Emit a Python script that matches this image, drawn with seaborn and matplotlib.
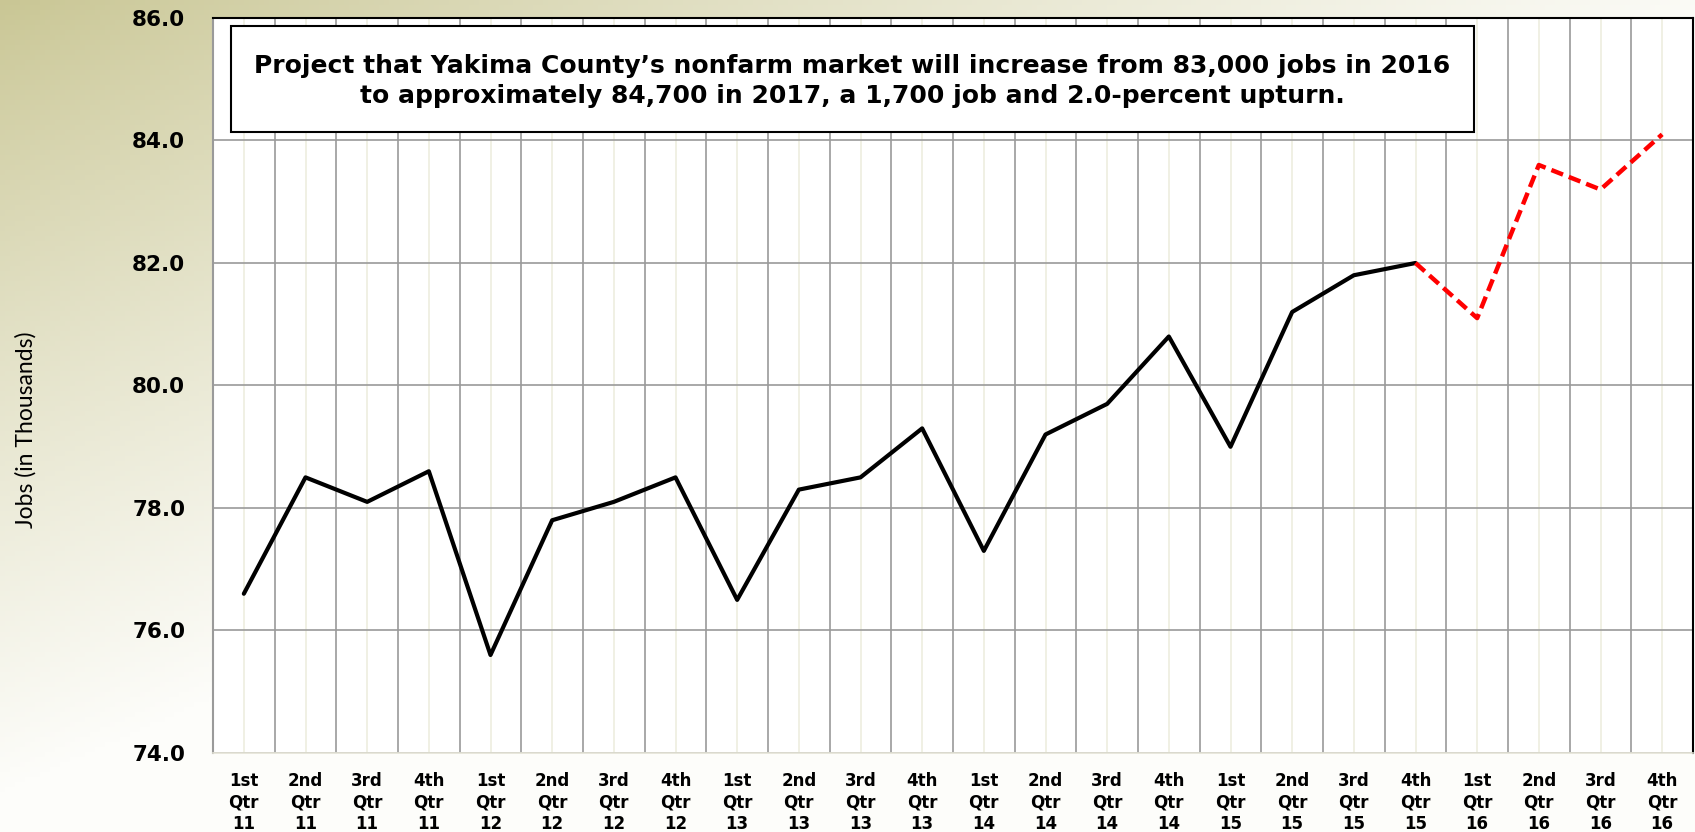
import numpy as np
import pandas as pd
import matplotlib
matplotlib.use("Agg")
import matplotlib.pyplot as plt
import matplotlib.colors as mcolors
from matplotlib.patches import Rectangle
import seaborn as sns

# quarterly nonfarm jobs, thousands
quarters = ["1st", "2nd", "3rd", "4th"] * 6
years = ["11"] * 4 + ["12"] * 4 + ["13"] * 4 + ["14"] * 4 + ["15"] * 4 + ["16"] * 4
actual = [76.6, 78.5, 78.1, 78.6, 75.6, 77.8, 78.1, 78.5, 76.5, 78.3, 78.5, 79.3,
          77.3, 79.2, 79.7, 80.8, 79.0, 81.2, 81.8, 82.0]
forecast = [82.0, 81.1, 83.6, 83.2, 84.1]  # starts at 4th Qtr 15

tick_labels = [f"{q}\nQtr\n{y}" for q, y in zip(quarters, years)]
yticks = [74.0, 76.0, 78.0, 80.0, 82.0, 84.0, 86.0]

df_act = pd.DataFrame({"pos": np.arange(len(actual)), "jobs": actual})
df_fc = pd.DataFrame({"pos": np.arange(len(actual) - 1, len(actual) - 1 + len(forecast)),
                      "jobs": forecast})

sns.set_style("white")
plt.rcParams['font.family'] = ['DejaVu Sans']
plt.rcParams['text.color'] = 'black'
plt.rcParams['xtick.color'] = 'black'
plt.rcParams['ytick.color'] = 'black'
plt.rcParams['axes.labelcolor'] = 'black'

fig = plt.figure(figsize=(16.95, 8.32), dpi=100)

# olive-to-white gradient background
bg = fig.add_axes([0, 0, 1, 1], zorder=-10)
W, H = 340, 166
xx, yy = np.meshgrid(np.linspace(0, 1, W), np.linspace(0, 1, H))
t = np.clip(xx * 0.95 + yy * 1.05, 0, 1) ** 0.85
c0 = np.array(mcolors.to_rgb("#c9c694"))
c1 = np.array(mcolors.to_rgb("#fdfdfa"))
img = c0[None, None, :] * (1 - t[..., None]) + c1[None, None, :] * t[..., None]
bg.imshow(img, aspect="auto", extent=[0, 1, 0, 1], origin="upper")
bg.axis("off")

top_px, bot_px = 18, 753
ax = fig.add_axes([213 / 1695, 1 - bot_px / 832, 1480 / 1695, (bot_px - top_px) / 832])
ax.set_facecolor("white")

sns.lineplot(data=df_act, x="pos", y="jobs", ax=ax, color="black", linewidth=3.0, zorder=5)
sns.lineplot(data=df_fc, x="pos", y="jobs", ax=ax, color="#ff0000", linewidth=3.2,
             zorder=5, linestyle=(0, (2.8, 1.4)))

ax.set_xlim(-0.5, len(tick_labels) - 0.5)
ax.set_ylim(74, 86)
ax.set_yticks(yticks)
ax.set_yticklabels([f"{v:.1f}" for v in yticks], fontsize=15.5, fontweight="bold")
ax.set_xticks(np.arange(len(tick_labels)))
ax.set_xticklabels(tick_labels, fontsize=12, fontweight="bold", linespacing=1.22)
ax.set_xticks(np.arange(len(tick_labels) + 1) - 0.5, minor=True)

ax.grid(axis="y", which="major", color="#9a9a9a", linewidth=1.2)
ax.grid(axis="x", which="minor", color="#9a9a9a", linewidth=1.2)
ax.grid(axis="x", which="major", color="#eeeddf", linewidth=1.2)
ax.tick_params(axis="y", length=0, pad=20)
ax.tick_params(axis="x", which="both", length=0, pad=14)
ax.set_xlabel("")
ax.set_ylabel("Jobs (in Thousands)", fontsize=16.5, family=["Lato", "DejaVu Sans"])
ax.yaxis.set_label_coords(-0.119, 0.44)

for side in ["top", "right"]:
    ax.spines[side].set_color("black")
    ax.spines[side].set_linewidth(1.5)
ax.spines["left"].set_color("#9a9a9a")
ax.spines["left"].set_linewidth(1.5)
ax.spines["bottom"].set_color("#e4e3d6")
ax.spines["bottom"].set_linewidth(1.2)

# annotation box
ax.add_patch(Rectangle((0.012, 0.845), 0.84, 0.144, transform=ax.transAxes,
                       facecolor="white", edgecolor="black", linewidth=1.5, zorder=8))
ax.text(0.432, 0.914,
        "Project that Yakima County\u2019s nonfarm market will increase from 83,000 jobs in 2016\n"
        "to approximately 84,700 in 2017, a 1,700 job and 2.0-percent upturn.",
        transform=ax.transAxes, ha="center", va="center", fontsize=18, fontweight="bold",
        linespacing=1.3, zorder=9)

fig.savefig("out.png", dpi=100)
